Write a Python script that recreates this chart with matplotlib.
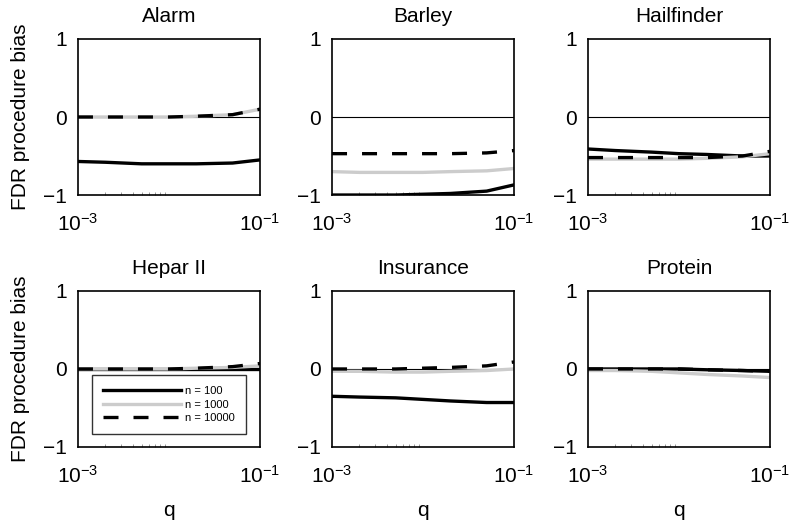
import numpy as np
import matplotlib
matplotlib.use("Agg")
import matplotlib.pyplot as plt
from matplotlib.ticker import FixedLocator, NullFormatter

plt.rcParams['font.family'] = ['Liberation Sans', 'DejaVu Sans']

# FDR threshold q on a log grid
q = [1e-3, 2e-3, 5e-3, 1e-2, 2e-2, 5e-2, 1e-1]

networks = ["Alarm", "Barley", "Hailfinder", "Hepar II", "Insurance", "Protein"]

# bias for n = 100, 1000, 10000
bias_n100 = {
    "Alarm":      [-0.57, -0.58, -0.60, -0.60, -0.60, -0.59, -0.55],
    "Barley":     [-1.00, -1.00, -1.00, -0.99, -0.98, -0.95, -0.87],
    "Hailfinder": [-0.41, -0.43, -0.45, -0.47, -0.48, -0.50, -0.50],
    "Hepar II":   [0.00, 0.00, 0.00, 0.00, 0.00, 0.00, 0.00],
    "Insurance":  [-0.35, -0.36, -0.37, -0.39, -0.41, -0.43, -0.43],
    "Protein":    [0.00, 0.00, 0.00, 0.00, -0.01, -0.02, -0.03],
}
bias_n1000 = {
    "Alarm":      [0.00, 0.00, 0.00, 0.00, 0.01, 0.03, 0.10],
    "Barley":     [-0.70, -0.71, -0.71, -0.71, -0.70, -0.69, -0.66],
    "Hailfinder": [-0.54, -0.54, -0.54, -0.54, -0.53, -0.51, -0.47],
    "Hepar II":   [0.00, 0.00, 0.00, 0.00, 0.01, 0.02, 0.04],
    "Insurance":  [-0.03, -0.03, -0.04, -0.04, -0.03, -0.02, 0.00],
    "Protein":    [-0.02, -0.02, -0.03, -0.05, -0.07, -0.09, -0.11],
}
bias_n10000 = {
    "Alarm":      [0.00, 0.00, 0.00, 0.00, 0.01, 0.03, 0.10],
    "Barley":     [-0.47, -0.47, -0.47, -0.47, -0.47, -0.46, -0.43],
    "Hailfinder": [-0.52, -0.52, -0.52, -0.52, -0.52, -0.50, -0.44],
    "Hepar II":   [0.00, 0.00, 0.00, 0.00, 0.01, 0.03, 0.07],
    "Insurance":  [0.00, 0.00, 0.00, 0.01, 0.02, 0.04, 0.09],
    "Protein":    [0.00, 0.00, 0.00, 0.00, -0.01, -0.02, -0.03],
}

fig = plt.figure(figsize=(7.9, 5.22), dpi=100)

lefts = [0.0987, 0.4203, 0.7443]
bottoms = [0.6264, 0.1437]
w, h = 0.2304, 0.2989
fs = 15

for i, name in enumerate(networks):
    row, col = divmod(i, 3)
    ax = fig.add_axes([lefts[col], bottoms[row], w, h])
    ax.axhline(0, color='black', lw=0.8, zorder=1)
    l1, = ax.plot(q, bias_n100[name], color='black', lw=2.4, label='n = 100')
    l2, = ax.plot(q, bias_n1000[name], color='#cccccc', lw=2.4, label='n = 1000')
    l3, = ax.plot(q, bias_n10000[name], color='black', lw=2.4, ls=(0, (4.5, 4.5)),
                  label='n = 10000')
    ax.set_xscale('log')
    ax.set_xlim(1e-3, 1e-1)
    ax.set_ylim(-1, 1)
    ax.set_yticks([-1, 0, 1])
    ax.set_yticklabels(['\u22121', '0', '1'])
    ax.set_xticks([1e-3, 1e-1])
    ax.set_xticklabels([r'$\mathregular{10^{-3}}$', r'$\mathregular{10^{-1}}$'])
    ax.xaxis.set_minor_locator(FixedLocator([k * 1e-3 for k in range(2, 10)]))
    ax.xaxis.set_minor_formatter(NullFormatter())
    ax.tick_params(which='major', length=0, labelsize=fs)
    ax.tick_params(axis='x', which='major', pad=13)
    ax.tick_params(axis='y', which='major', pad=8)
    ax.tick_params(axis='x', which='minor', direction='in', length=2,
                   width=0.6, color='#888888', top=False)
    for s in ax.spines.values():
        s.set_linewidth(1.2)
    ax.set_title(name, fontsize=fs, pad=12)
    if col == 0:
        ax.set_ylabel('FDR procedure bias', fontsize=fs, labelpad=9)
    if row == 1:
        ax.set_xlabel('q', fontsize=fs, labelpad=10)
    if name == "Hepar II":
        leg = ax.legend(handles=[l1, l2, l3], loc='lower center',
                        bbox_to_anchor=(0.5, 0.083), borderaxespad=0,
                        fontsize=8, frameon=True, fancybox=False,
                        edgecolor='black', handlelength=7, handletextpad=0.4,
                        borderpad=1.0, labelspacing=0.3)
        leg.get_frame().set_linewidth(1.0)

fig.savefig('out.png', dpi=100)
